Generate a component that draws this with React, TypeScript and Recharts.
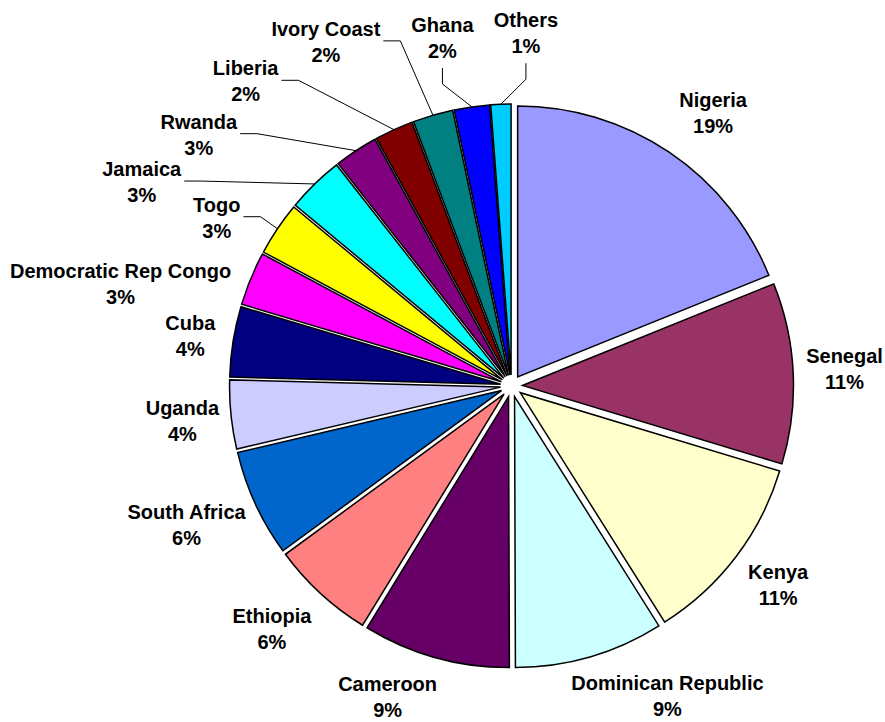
import React from "react"
import { Pie, PieChart, Sector } from "recharts"

const countries = [
  "Nigeria",
  "Senegal",
  "Kenya",
  "Dominican Republic",
  "Cameroon",
  "Ethiopia",
  "South Africa",
  "Uganda",
  "Cuba",
  "Democratic Rep Congo",
  "Togo",
  "Jamaica",
  "Rwanda",
  "Liberia",
  "Ivory Coast",
  "Ghana",
  "Others",
]

const shares = [18.9, 10.8, 11.4, 8.9, 8.8, 6.2, 6.4, 4.1, 4.2, 3.2, 3.2, 3.4, 2.6, 2.3, 2.4, 2.1, 1.2]

const colors = [
  "#9999FF",
  "#993366",
  "#FFFFCC",
  "#CCFFFF",
  "#660066",
  "#FF8080",
  "#0066CC",
  "#CCCCFF",
  "#000080",
  "#FF00FF",
  "#FFFF00",
  "#00FFFF",
  "#800080",
  "#800000",
  "#008080",
  "#0000FF",
  "#00CCFF",
]

const data = countries.map((name, i) => ({ name, value: shares[i], fill: colors[i] }))

// label placement tweaks (Excel moved the crowded ones and added leader lines)
const labelNudge: Record<string, { dx: number; dy: number; leader?: "side" | "bottom" }> = {
  Senegal: { dx: -5, dy: 0 },
  Kenya: { dx: -2, dy: -7 },
  "Dominican Republic": { dx: 0, dy: -2 },
  Cameroon: { dx: -7, dy: -2 },
  Ethiopia: { dx: 3, dy: -2 },
  "South Africa": { dx: 7, dy: -10 },
  Uganda: { dx: 6, dy: -2 },
  Cuba: { dx: 0, dy: 8 },
  "Democratic Rep Congo": { dx: -3, dy: 36 },
  Togo: { dx: -22, dy: 23, leader: "side" },
  Jamaica: { dx: -121, dy: 35, leader: "side" },
  Rwanda: { dx: -109, dy: 23, leader: "side" },
  Liberia: { dx: -108, dy: -8, leader: "side" },
  "Ivory Coast": { dx: -61, dy: -32, leader: "side" },
  Ghana: { dx: -15, dy: -27, leader: "bottom" },
  Others: { dx: 29, dy: -29, leader: "bottom" },
}

const CX = 511.5
const CY = 386
const RADIUS = 271
const EXPLODE = 11
const LABEL_R = 300
const RAD = Math.PI / 180
const FONT = "bold 20px 'Liberation Sans', Arial, sans-serif"

let ctx: CanvasRenderingContext2D | null = null
function textWidth(s: string) {
  if (!ctx) ctx = document.createElement("canvas").getContext("2d")
  if (!ctx) return s.length * 11
  ctx.font = FONT
  return ctx.measureText(s).width
}

const clamp = (v: number) => Math.max(-1, Math.min(1, v))

function renderSlice(props: any) {
  const mid = (props.startAngle + props.endAngle) / 2
  const ux = Math.cos(mid * RAD)
  const uy = -Math.sin(mid * RAD)
  return <Sector {...props} cx={props.cx + EXPLODE * ux} cy={props.cy + EXPLODE * uy} />
}

function renderLabel(props: any) {
  const { midAngle, index, percent } = props
  const ux = Math.cos(midAngle * RAD)
  const uy = -Math.sin(midAngle * RAD)
  const name = countries[index]
  const pct = `${Math.round(percent * 100)}%`
  const w = Math.max(textWidth(name), textWidth(pct))
  const h = 48
  const nudge = labelNudge[name] ?? { dx: 0, dy: 0 }
  const px = CX + LABEL_R * ux
  const py = CY + LABEL_R * uy
  const lx = px + (w / 2) * clamp(ux * 2.7) + nudge.dx
  const ly = py + (h / 2) * clamp(uy * 2.7) + nudge.dy

  let leader = null
  if (nudge.leader) {
    const sx = CX + (RADIUS + EXPLODE) * ux
    const sy = CY + (RADIUS + EXPLODE) * uy
    let pts = ""
    if (nudge.leader === "side") {
      pts = `${sx},${sy} ${lx + w / 2 + 20},${ly - 1} ${lx + w / 2 + 3},${ly - 1}`
    } else {
      pts = `${sx},${sy} ${lx},${ly + h / 2 + 22} ${lx},${ly + h / 2 + 6}`
    }
    leader = <polyline points={pts} fill="none" stroke="#000" strokeWidth={1} />
  }

  return (
    <g key={`label-${index}`}>
      {leader}
      <text textAnchor="middle" fill="#000" style={{ font: FONT }}>
        <tspan x={lx} y={ly - 6}>
          {name}
        </tspan>
        <tspan x={lx} y={ly + 20}>
          {pct}
        </tspan>
      </text>
    </g>
  )
}

export default function App() {
  return (
    <div style={{ position: "absolute", left: 0, top: 0, background: "#fff" }}>
      <PieChart width={885} height={722} margin={{ top: 0, right: 0, bottom: 0, left: 0 }}>
        <Pie
          data={data}
          dataKey="value"
          nameKey="name"
          cx={CX}
          cy={CY}
          outerRadius={RADIUS}
          startAngle={90}
          endAngle={-270}
          stroke="#000"
          strokeWidth={1.5}
          label={renderLabel}
          labelLine={false}
          shape={renderSlice}
          isAnimationActive={false}
        />
      </PieChart>
    </div>
  )
}
